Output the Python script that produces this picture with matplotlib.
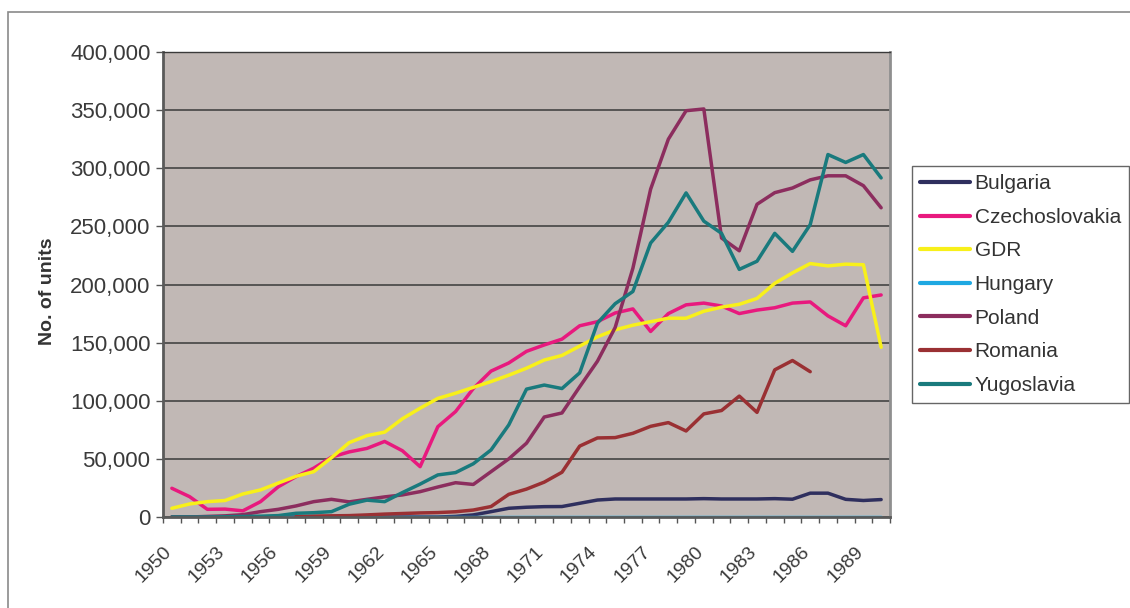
import matplotlib
matplotlib.use("Agg")
import matplotlib.pyplot as plt
import numpy as np
from matplotlib.patches import Rectangle
from matplotlib.ticker import FuncFormatter
from matplotlib.transforms import ScaledTranslation

plt.rcParams["font.family"] = ["Liberation Sans", "DejaVu Sans"]

nan = np.nan

years = list(range(1950, 1991))
label_years = [1950, 1953, 1956, 1959, 1962, 1965, 1968, 1971, 1974, 1977, 1980, 1983, 1986, 1989]

bulgaria = [0, 0, 0, 0, 0, 0, 0, 0, 0, 0,
            0, 0, 0, 0, 0, 0, 500, 1800, 4600, 7500,
            8400, 8900, 9000, 11800, 14600, 15500, 15500, 15500, 15500, 15500,
            15800, 15500, 15500, 15500, 15800, 15300, 20500, 20500, 15200, 14200,
            15000]

czechoslovakia = [24700, 17500, 6600, 6800, 5300, 13200, 26000, 34700, 42000, 51500,
                  56000, 59000, 65000, 57000, 43300, 77700, 90700, 110500, 125500, 132500,
                  142500, 148000, 153000, 164500, 168000, 175500, 179000, 159600, 175000, 182500,
                  184000, 181500, 175000, 178000, 180000, 184000, 185000, 173000, 164500, 188500,
                  191000]

gdr = [7500, 11200, 13200, 14200, 19800, 23300, 29200, 35000, 39000, 51000,
       64000, 70000, 73000, 84500, 93600, 102000, 106500, 111500, 116500, 122000,
       128000, 135000, 139000, 147000, 155000, 161000, 165000, 168000, 171000, 171000,
       177000, 180500, 183000, 188000, 201000, 210000, 218000, 216000, 217500, 217000,
       146000]

hungary = [0] * 41

poland = [0, 0, 500, 1000, 2000, 4600, 6600, 9500, 13200, 15200,
          13000, 15200, 17300, 19000, 21800, 25800, 29500, 28000, 39000, 50000,
          63500, 86000, 89500, 112000, 134000, 163000, 214000, 282000, 325000, 349500,
          351000, 240000, 229000, 269000, 279000, 283000, 290000, 293500, 293500, 285000,
          266000]

romania = [nan, nan, nan, nan, nan, nan, nan, 400, 800, 1000,
           1200, 1800, 2500, 3000, 3500, 3800, 4500, 6000, 9000, 19500,
           24000, 30000, 38500, 61000, 68000, 68300, 72000, 78000, 81200, 74000,
           88700, 91600, 104000, 90000, 126600, 134600, 125000, nan, nan, nan,
           nan]

yugoslavia = [0, 0, 0, 200, 500, 700, 1200, 3200, 3700, 4600,
              11000, 14500, 13200, 21000, 28300, 36200, 38200, 45800, 57700, 79200,
              110000, 113500, 110500, 124000, 166800, 183500, 194000, 235700, 253500, 278800,
              254500, 244000, 213000, 220000, 244000, 228500, 251500, 311800, 305000, 311800,
              291700]

series = [
    ("Bulgaria", bulgaria, "#2F2F5E"),
    ("Czechoslovakia", czechoslovakia, "#E8197E"),
    ("GDR", gdr, "#F8F01A"),
    ("Hungary", hungary, "#1EA8E2"),
    ("Poland", poland, "#8C2D5E"),
    ("Romania", romania, "#9A3033"),
    ("Yugoslavia", yugoslavia, "#197A7D"),
]

W, H = 1130, 608
fig = plt.figure(figsize=(W / 100, H / 100), dpi=100)
ax = fig.add_axes([163 / W, (H - 517) / H, 727 / W, 465 / H])
ax.set_facecolor("#C1B8B5")

x = np.arange(len(years))
for name, vals, color in series:
    ax.plot(x, np.array(vals, dtype=float), color=color, lw=2.5, label=name,
            solid_capstyle="round", solid_joinstyle="round")

ax.set_xlim(-0.5, len(years) - 0.5)
ax.set_ylim(0, 400000)
ax.set_yticks(np.arange(0, 400001, 50000))
ax.yaxis.set_major_formatter(FuncFormatter(lambda v, p: f"{int(v):,}"))
ax.grid(axis="y", color="#3a3a3a", lw=1.1)
ax.set_axisbelow(True)

# tick marks sit between categories, labels under every third year
ax.set_xticks(np.arange(len(years) + 1) - 0.5)
ax.set_xticklabels([])
ax.set_xticks([years.index(y) for y in label_years], minor=True)
ax.set_xticklabels([str(y) for y in label_years], minor=True, rotation=45,
                   ha="right", rotation_mode="anchor")
ax.tick_params(axis="x", which="major", length=4.5, width=1, color="#555555", direction="out")
ax.tick_params(axis="x", which="minor", length=0, pad=19, labelsize=14, labelcolor="#3a3a3a")
ax.tick_params(axis="y", length=5, width=1, color="#555555", labelsize=16,
               labelcolor="#3a3a3a", pad=4)
shift = ScaledTranslation(-9 / 100, 0, fig.dpi_scale_trans)
for lbl in ax.get_xticklabels(minor=True):
    lbl.set_transform(lbl.get_transform() + shift)

for side in ("left", "bottom"):
    ax.spines[side].set_color("#5a5a5a")
    ax.spines[side].set_linewidth(2)
ax.spines["right"].set_color("#8f8f8f")
ax.spines["right"].set_linewidth(2)
ax.spines["top"].set_color("#3a3a3a")
ax.spines["top"].set_linewidth(1)

fig.text(47 / W, 1 - 291 / H, "No. of units", rotation=90, fontsize=14,
         fontweight="bold", color="#333333", ha="center", va="center")

leg = fig.legend(loc="upper left", bbox_to_anchor=(912 / W, 1 - 166 / H),
                 bbox_transform=fig.transFigure, frameon=True, fancybox=False,
                 edgecolor="#404040", fontsize=15, handlelength=2.4, handletextpad=0.2,
                 labelspacing=0.7, borderpad=0.4, borderaxespad=0)
leg.get_frame().set_linewidth(1)
for t in leg.get_texts():
    t.set_color("#333333")
for ln in leg.get_lines():
    ln.set_linewidth(3)

fig.patches.append(Rectangle((8 / W, -0.05), (1140 - 8) / W, (1 - 12 / H) + 0.05,
                             transform=fig.transFigure, fill=False,
                             edgecolor="#8a8a8a", lw=1.2))

fig.savefig("out.png", dpi=100)
